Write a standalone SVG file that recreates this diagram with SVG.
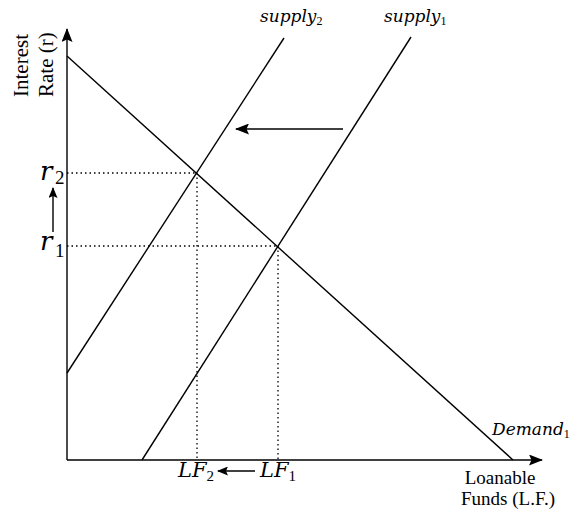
<svg xmlns="http://www.w3.org/2000/svg" width="571" height="510" viewBox="0 0 571 510">
<style>
.ln{stroke:#000;stroke-width:1.4;fill:none}
.dt{stroke:#000;stroke-width:1.3;stroke-dasharray:1.5,3;fill:none}
.t{font-family:"Liberation Serif","Times New Roman",serif;fill:#000}
.m{font-family:"DejaVu Serif",serif;font-style:italic;fill:#000}
.s{font-family:"Liberation Serif",serif;font-style:normal}
</style>
<defs>
<marker id="ah" markerWidth="11" markerHeight="9" refX="10" refY="4.5" orient="auto" markerUnits="userSpaceOnUse">
<path d="M0,0 L11,4.5 L0,9 L2,4.5 Z" fill="#000"/>
</marker>
<marker id="ahL" markerWidth="14" markerHeight="11" refX="13" refY="5.5" orient="auto" markerUnits="userSpaceOnUse">
<path d="M0,0 L14,5.5 L0,11 L2.5,5.5 Z" fill="#000"/>
</marker>
</defs>
<g id="axes">
<line class="ln" x1="67" y1="460" x2="67" y2="29" marker-end="url(#ahL)"/>
<line class="ln" x1="67" y1="460" x2="542" y2="460" marker-end="url(#ahL)"/>
</g>
<g id="connectors">
<line class="ln" x1="67" y1="56" x2="513" y2="460"/>
<line class="ln" x1="142" y1="460" x2="411" y2="37"/>
<line class="ln" x1="67" y1="373" x2="284" y2="38"/>
<line class="dt" x1="67" y1="173" x2="197" y2="173"/>
<line class="dt" x1="67" y1="246" x2="278" y2="246"/>
<line class="dt" x1="197" y1="173" x2="197" y2="460"/>
<line class="dt" x1="278" y1="246" x2="278" y2="460"/>
<line class="ln" x1="343" y1="129" x2="236" y2="129" marker-end="url(#ahL)"/>
<line class="ln" x1="53" y1="232" x2="53" y2="188" marker-end="url(#ah)"/>
<line class="ln" x1="255" y1="471" x2="218" y2="471" marker-end="url(#ah)"/>
</g>
<g id="labels">
<text class="t" font-size="21" transform="translate(28,97) rotate(-90)">Interest</text>
<text class="t" font-size="21" transform="translate(53,97) rotate(-90)">Rate (r)</text>
<text class="m" font-size="17" x="260" y="22">supply<tspan class="s" font-size="12" dy="3">2</tspan></text>
<text class="m" font-size="17" x="384" y="22">supply<tspan class="s" font-size="12" dy="3">1</tspan></text>
<text class="m" font-size="26" x="40" y="180">r</text>
<text class="t" font-size="19" x="55" y="184">2</text>
<text class="m" font-size="26" x="40" y="250">r</text>
<text class="t" font-size="19" x="55" y="257">1</text>
<text class="m" font-size="21" x="178" y="477">LF<tspan class="s" font-size="15" dy="4">2</tspan></text>
<text class="m" font-size="21" x="260" y="477">LF<tspan class="s" font-size="15" dy="4">1</tspan></text>
<text class="m" font-size="17" x="492" y="435">Demand<tspan class="s" font-size="12" dy="3">1</tspan></text>
<text class="t" font-size="19" x="500" y="484" text-anchor="middle">Loanable</text>
<text class="t" font-size="19" x="508" y="505" text-anchor="middle">Funds (L.F.)</text>
</g>
</svg>
